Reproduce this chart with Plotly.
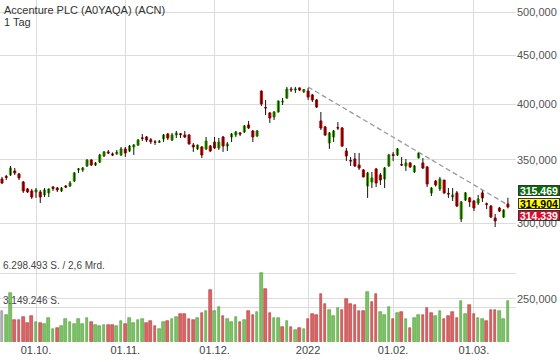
import math
import plotly.graph_objects as go

# ---------------- data (daily candles, 21.09.2021 - 11.03.2022) ----------------
opens = [334.0, 336.1, 337.3, 340.6, 338.1, 331.6, 326.1, 324.5, 323.7, 323.7,
         321.4, 323.0, 327.6, 326.8, 324.5, 328.4, 328.4, 332.4, 341.4, 341.4,
         344.7, 349.7, 345.5, 348.0, 353.1, 356.6, 354.9, 355.0, 354.0, 359.2,
         357.4, 360.9, 362.6, 368.9, 369.7, 367.2, 365.4, 365.0, 367.9, 372.4,
         367.0, 371.5, 372.6, 371.5, 371.5, 362.6, 359.2, 360.9, 359.2, 361.7,
         365.2, 360.0, 369.7, 361.7, 369.7, 371.5, 373.3, 374.2, 380.6, 375.1,
         370.6, 413.1, 397.0, 391.8, 388.0, 392.7, 402.3, 406.2, 415.1, 414.1,
         416.2, 412.4, 413.1, 409.2, 404.3, 384.3, 378.8, 364.4, 369.7, 378.2,
         377.8, 357.4, 349.3, 350.6, 345.5, 341.4, 328.4, 331.6, 342.2, 337.3,
         334.0, 344.7, 354.4, 354.0, 345.9, 344.7, 347.2, 339.8, 351.4, 347.2,
         343.9, 323.0, 332.4, 326.1, 333.2, 322.6, 319.8, 323.0, 303.2, 317.5,
         319.1, 316.7, 315.2, 323.0, 314.6, 312.9, 304.0, 311.4, 304.7, 314.5]

highs = [335.7, 337.3, 344.7, 343.0, 338.9, 332.4, 326.8, 326.1, 326.8, 325.3,
         326.8, 326.5, 328.4, 327.6, 327.6, 329.2, 332.4, 339.8, 343.0, 343.9,
         350.5, 350.5, 348.0, 354.9, 357.4, 358.3, 356.1, 358.3, 360.9, 360.9,
         362.6, 363.5, 367.9, 372.4, 370.6, 368.8, 367.0, 367.0, 372.4, 373.3,
         373.3, 375.1, 373.3, 375.1, 372.4, 364.4, 363.0, 361.7, 369.7, 362.6,
         369.7, 368.8, 370.6, 365.2, 373.3, 375.1, 374.2, 380.6, 384.3, 376.0,
         376.0, 413.6, 404.3, 392.7, 393.6, 403.8, 406.2, 417.2, 417.2, 417.2,
         416.7, 415.1, 416.2, 410.2, 405.3, 392.7, 379.7, 374.2, 376.0, 383.3,
         378.8, 360.0, 352.3, 355.7, 355.7, 342.2, 339.8, 339.8, 343.0, 338.9,
         343.9, 354.9, 356.6, 360.0, 352.3, 350.6, 348.0, 345.5, 356.6, 351.4,
         344.7, 327.6, 333.2, 335.7, 333.2, 326.8, 326.8, 324.5, 316.7, 323.7,
         319.8, 317.5, 321.4, 325.3, 315.6, 313.7, 307.0, 312.2, 310.6, 319.2]

lows = [330.0, 333.2, 336.5, 337.3, 333.2, 323.0, 323.0, 318.3, 319.1, 315.2,
        319.8, 319.8, 324.5, 323.7, 323.7, 326.8, 327.6, 331.6, 338.9, 339.8,
        343.9, 344.7, 344.7, 347.2, 352.3, 354.9, 353.1, 354.0, 353.1, 352.3,
        356.6, 354.0, 361.7, 366.1, 365.2, 363.5, 362.6, 364.4, 365.2, 367.0,
        366.1, 368.8, 368.8, 368.8, 363.0, 356.6, 358.3, 351.4, 358.3, 356.6,
        359.2, 358.3, 356.6, 357.4, 365.2, 369.7, 370.6, 373.3, 376.9, 365.2,
        369.7, 398.4, 389.9, 382.4, 385.2, 392.2, 399.4, 405.3, 412.1, 411.2,
        413.1, 411.2, 404.3, 402.3, 396.5, 376.0, 370.6, 359.2, 365.2, 376.0,
        360.9, 348.9, 344.7, 343.9, 341.4, 335.3, 319.1, 326.8, 327.6, 329.2,
        326.8, 344.0, 348.9, 353.1, 344.7, 340.6, 343.0, 338.9, 351.0, 342.2,
        327.6, 320.6, 328.0, 324.5, 322.2, 319.1, 316.7, 312.2, 301.0, 316.7,
        312.2, 309.1, 313.7, 316.0, 310.6, 304.0, 297.4, 308.4, 304.0, 311.1]

closes = [330.8, 335.3, 343.0, 338.9, 334.9, 324.5, 323.7, 319.8, 325.3, 319.8,
          325.3, 326.0, 326.4, 325.3, 326.8, 327.6, 330.8, 338.9, 342.2, 343.0,
          349.7, 345.5, 347.2, 354.0, 356.6, 355.7, 354.0, 356.4, 359.2, 355.7,
          361.7, 362.6, 367.0, 368.5, 367.0, 365.5, 365.0, 365.8, 371.5, 368.8,
          371.5, 373.3, 371.8, 369.7, 363.5, 360.9, 362.6, 354.0, 366.1, 357.4,
          360.0, 365.2, 361.7, 363.5, 372.4, 374.2, 372.4, 379.7, 377.8, 369.7,
          375.1, 400.4, 396.6, 387.1, 392.7, 403.3, 403.0, 415.1, 414.3, 415.1,
          414.1, 414.6, 407.2, 404.3, 397.5, 377.8, 371.5, 373.3, 375.1, 377.8,
          361.7, 353.1, 348.9, 344.7, 343.0, 335.7, 338.9, 334.9, 330.8, 333.2,
          343.0, 354.0, 353.6, 359.2, 345.5, 347.2, 343.9, 344.7, 355.7, 343.0,
          330.0, 326.8, 329.2, 334.0, 323.0, 322.2, 321.4, 312.9, 316.0, 323.0,
          316.0, 311.4, 318.3, 319.1, 314.1, 304.7, 301.8, 309.1, 309.9, 312.2]

# volume in million shares
vol_m = [2.83, 2.44, 4.50, 2.01, 2.01, 2.25, 1.76, 2.37, 1.83, 1.76,
         1.64, 2.16, 1.19, 1.25, 1.46, 2.07, 1.80, 1.67, 2.07, 1.67,
         2.16, 1.85, 1.52, 1.49, 1.52, 1.55, 1.55, 1.46, 1.92, 1.62,
         2.16, 1.76, 1.98, 2.10, 1.76, 1.89, 1.46, 1.19, 1.83, 1.94,
         2.07, 2.31, 2.56, 2.56, 2.10, 2.01, 2.22, 2.67, 2.83, 4.75,
         2.86, 3.17, 2.37, 2.10, 1.85, 2.25, 1.83, 2.01, 2.83, 2.46,
         2.77, 6.298493, 4.87, 2.67, 2.22, 2.22, 1.40, 1.92, 1.37, 1.07,
         1.28, 1.16, 2.10, 2.53, 2.46, 4.38, 3.47, 2.92, 2.40, 3.13,
         2.92, 3.93, 3.44, 3.38, 2.83, 2.83, 4.54, 3.62, 4.38, 2.77,
         2.46, 3.17, 2.10, 2.62, 2.74, 2.13, 1.28, 2.19, 2.44, 2.44,
         3.08, 2.67, 2.37, 2.83, 2.13, 2.40, 2.77, 2.16, 3.74, 2.56,
         3.38, 2.53, 2.22, 2.10, 1.92, 2.89, 2.89, 2.80, 2.07, 3.77]

tick_idx = [8, 29, 50, 72, 92, 111]
tick_text = ["01.10.", "01.11.", "01.12.", "2022", "01.02.", "01.03."]
price_ticks = [250, 300, 350, 400, 450, 500]
price_tick_text = ["250,000", "300,000", "350,000", "400,000", "450,000", "500,000"]
trend_idx = [72, 119]
trend_val = [417.2, 313.7]
badge_vals = [315.469, 314.904, 314.339]
badge_text = ["315,469", "314,904", "314,339"]
vol_max = 6.298493
vol_half = 3.149246
vol_max_text = "6.298.493 S. / 2,6 Mrd."
vol_half_text = "3.149.246 S."
title_text = "Accenture PLC (A0YAQA) (ACN)"
period_text = "1 Tag"

# ---------------- styling ----------------
FONT = "Liberation Sans, Arial, sans-serif"
GREEN = "#3cb400"
RED = "#e00000"
VGREEN, VGREEN_L = "#7cc464", "#4f9a3a"
VRED, VRED_L = "#dc6464", "#b03a3a"
VGRAY, VGRAY_L = "#b4b4b4", "#8c8c8c"
GRID = "#dcdcdc"

n = len(closes)
x = list(range(n))

vcol, vline = [VGRAY], [VGRAY_L]
for i in range(1, n):
    if closes[i] >= closes[i - 1]:
        vcol.append(VGREEN); vline.append(VGREEN_L)
    else:
        vcol.append(VRED); vline.append(VRED_L)

wx, wy = [], []
for i in range(n):
    wx += [i, i, None]
    wy += [lows[i], highs[i], None]

body_hi = [max(o, c) for o, c in zip(opens, closes)]
body_lo = [min(o, c) for o, c in zip(opens, closes)]

fig = go.Figure()
fig.add_trace(go.Bar(x=x, y=vol_m, yaxis="y2", width=0.62,
                     marker=dict(color=vcol, line=dict(color=vline, width=0.6)),
                     hoverinfo="skip", showlegend=False))
fig.add_trace(go.Scatter(x=wx, y=wy, mode="lines", line=dict(color="#111111", width=1),
                         hoverinfo="skip", showlegend=False))
fig.add_trace(go.Candlestick(x=x, open=opens, high=body_hi, low=body_lo, close=closes,
                             increasing=dict(line=dict(color=GREEN, width=1), fillcolor=GREEN),
                             decreasing=dict(line=dict(color=RED, width=1), fillcolor=RED),
                             whiskerwidth=0, hoverinfo="skip", showlegend=False))
fig.add_trace(go.Scatter(x=trend_idx, y=trend_val, mode="lines",
                         line=dict(color="#9a9a9a", width=1.3, dash="5px,3px"),
                         hoverinfo="skip", showlegend=False))

ann = [
    dict(text=title_text, xref="paper", yref="paper", x=0.004, y=1, xanchor="left",
         yanchor="top", yshift=-2, showarrow=False, font=dict(size=11, color="#333333")),
    dict(text=period_text, xref="paper", yref="paper", x=0.004, y=1, xanchor="left",
         yanchor="top", yshift=-14, showarrow=False, font=dict(size=11, color="#333333")),
    dict(text=vol_max_text, xref="paper", yref="y2", x=0.001, y=vol_max, xanchor="left",
         yanchor="bottom", showarrow=False, font=dict(size=10, color="#444444")),
    dict(text=vol_half_text, xref="paper", yref="y2", x=0.001, y=vol_half, xanchor="left",
         yanchor="bottom", showarrow=False, font=dict(size=10, color="#444444")),
]
badge_style = [("#0b6b0b", "#ffffff", 12.5), ("#ffff00", "#000000", 0), ("#dc0a2a", "#ffffff", -11.8)]
for v, t, (bg, fg, ys) in zip(badge_vals, badge_text, badge_style):
    ann.append(dict(text="<b>%s</b>" % t, xref="paper", yref="y", x=1, xanchor="right",
                    xshift=44, y=math.log10(badge_vals[1]), yanchor="middle", yshift=ys,
                    showarrow=False, bgcolor=bg, bordercolor="#333333", borderwidth=1,
                    borderpad=0, width=40, height=9, align="center",
                    font=dict(size=10.5, color=fg)))

fig.update_layout(
    width=560, height=362, margin=dict(l=0, r=44, t=0, b=20),
    paper_bgcolor="white", plot_bgcolor="white",
    font=dict(family=FONT, size=11, color="#444444"),
    showlegend=False, annotations=ann, bargap=0,
    xaxis=dict(range=[-0.47, 120.9], tickmode="array", tickvals=tick_idx, ticktext=tick_text,
               showgrid=True, gridcolor=GRID, gridwidth=1, zeroline=False, showline=False,
               ticks="", rangeslider=dict(visible=False), tickfont=dict(size=11, color="#444444")),
    yaxis=dict(type="log", range=[math.log10(225.3), math.log10(514.7)], side="right",
               tickmode="array", tickvals=price_ticks, ticktext=price_tick_text,
               showgrid=True, gridcolor=GRID, gridwidth=1, zeroline=False, showline=False,
               ticks="", tickfont=dict(size=11, color="#555555")),
    yaxis2=dict(overlaying="y", range=[0, vol_max * 342 / 69], tickmode="array",
                tickvals=[vol_half, vol_max], showticklabels=False, showgrid=True,
                gridcolor=GRID, gridwidth=1, zeroline=False, showline=False, side="left"),
)

fig.write_html("out.html", config={"displayModeBar": False},
               post_script="document.body.style.margin='0';document.body.style.overflow='hidden';")
